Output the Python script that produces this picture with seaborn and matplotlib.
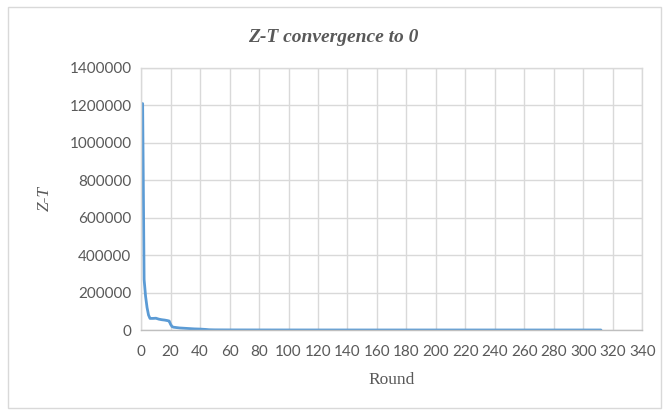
import matplotlib
matplotlib.use("Agg")
import matplotlib.pyplot as plt
import seaborn as sns
from matplotlib.patches import Rectangle
from matplotlib.ticker import StrMethodFormatter

# values
rounds = [1, 2, 3, 4, 5, 6, 8, 10, 12, 14, 16, 18, 19, 20, 21, 22, 24, 26, 28, 30,
          32, 34, 36, 38, 40, 42, 44, 46, 50, 60, 80, 100, 150, 200, 250, 300, 312]
zt = [1210000, 270000, 180000, 120000, 80000, 62000, 62000, 63000, 58000, 55000,
      53000, 50000, 48000, 30000, 18000, 15000, 13000, 11000, 10000, 9000,
      8000, 7000, 6000, 5500, 5000, 4000, 3000, 1500, 800, 500, 300, 200, 100, 80, 60, 50, 40]
x_ticks = list(range(0, 341, 20))
y_ticks = list(range(0, 1400001, 200000))

sns.set_style("whitegrid")
plt.rcParams["font.family"] = ["Lato", "DejaVu Sans"]

fig = plt.figure(figsize=(6.69, 4.12), dpi=100)
ax = fig.add_axes([0.211, 0.199, 0.749, 0.636])

sns.lineplot(x=rounds, y=zt, ax=ax, color="#5B9BD5", linewidth=2)

ax.set_xlim(0, 340)
ax.set_ylim(0, 1400000)
ax.set_xticks(x_ticks)
ax.set_yticks(y_ticks)
ax.yaxis.set_major_formatter(StrMethodFormatter("{x:.0f}"))
ax.tick_params(axis="both", labelsize=11, labelcolor="#595959", length=0)
ax.tick_params(axis="y", pad=7)
ax.tick_params(axis="x", pad=11)
ax.grid(True, color="#D9D9D9", linewidth=1)
for s in ax.spines.values():
    s.set_visible(True)
    s.set_color("#D9D9D9")
    s.set_linewidth(1)
ax.spines["bottom"].set_color("#BFBFBF")

ax.set_xlabel("Round", fontsize=12.5, color="#595959", family="Liberation Serif", labelpad=9)
ax.set_ylabel("Z-T", fontsize=12.5, color="#595959", family="Liberation Serif",
              style="italic", labelpad=12)
fig.text(0.498, 0.91, "Z-T convergence to 0", ha="center", va="center",
         fontsize=14, color="#595959", family="Liberation Serif",
         style="italic", weight="bold")

fig.patches.append(Rectangle((0.012, 0.01), 0.976, 0.973, transform=fig.transFigure,
                             fill=False, edgecolor="#D9D9D9", linewidth=1))

fig.savefig("out.png", dpi=100)
